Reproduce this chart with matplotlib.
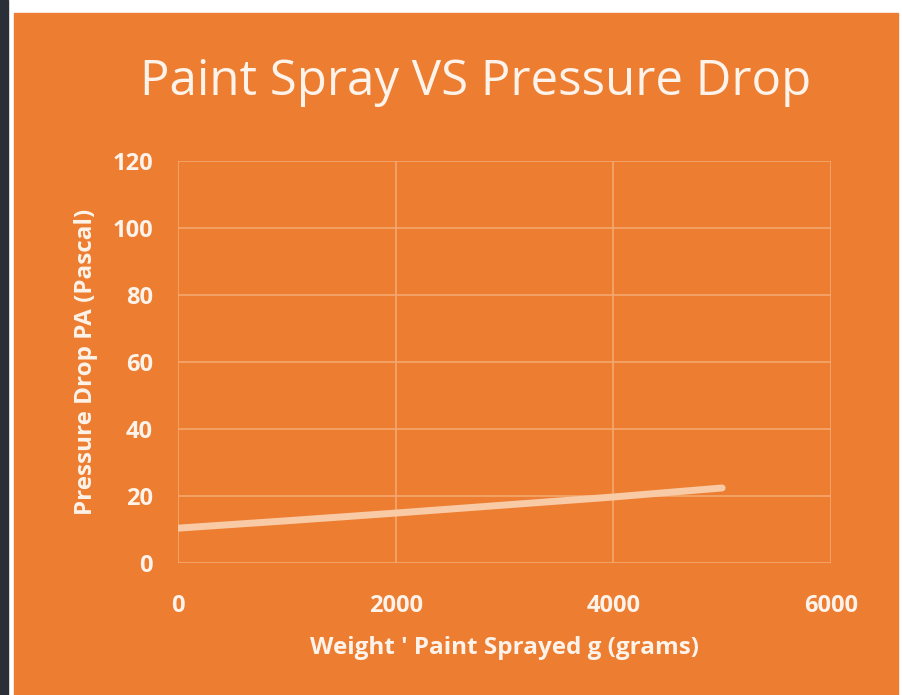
import matplotlib.pyplot as plt
from matplotlib.patches import Rectangle

# datos
peso = [0, 1000, 2000, 3000, 4000, 5000]
presion = [10.4, 12.6, 14.9, 17.3, 19.7, 22.4]
xticks = [0, 2000, 4000, 6000]
yticks = [0, 20, 40, 60, 80, 100, 120]

naranja = '#ed7d31'
blanco = '#fdf3ea'

fig = plt.figure(figsize=(9.03, 6.95), dpi=100)
fig.patch.set_facecolor('white')

# fondo naranja y barra oscura a la izquierda
fig.patches.append(Rectangle((14/903, 0), 884/903, 682/695, transform=fig.transFigure,
                             color=naranja, zorder=-10))
fig.patches.append(Rectangle((0, 0), 8/903, 1, transform=fig.transFigure,
                             color='#2b3038', zorder=-10))

ax = fig.add_axes([178/903, 1-563/695, 653/903, 402/695])
ax.set_facecolor(naranja)
ax.patch.set_alpha(0)

ax.plot(peso, presion, color='#f8cba6', lw=5, solid_capstyle='round', zorder=3)

ax.set_xlim(0, 6000)
ax.set_ylim(0, 120)
ax.set_xticks(xticks)
ax.set_yticks(yticks)
ax.grid(True, color='#f5a870', lw=1.2)
for s in ax.spines.values():
    s.set_visible(False)
ax.tick_params(length=0, colors=blanco, labelsize=17)
ax.tick_params(axis='x', pad=22)
ax.tick_params(axis='y', pad=18)
for lab in ax.get_xticklabels() + ax.get_yticklabels():
    lab.set_fontfamily('Open Sans')
    lab.set_fontweight('bold')

ax.set_xlabel("Weight ' Paint Sprayed g (grams)", color=blanco, fontsize=17.5,
              fontweight='bold', family='Open Sans', labelpad=13)
ax.set_ylabel('Pressure Drop PA (Pascal)', color=blanco, fontsize=17.5,
              fontweight='bold', family='Open Sans', labelpad=10)

fig.text(476/903, 1-82/695, 'Paint Spray VS Pressure Drop', color=blanco,
         fontsize=35.5, family='Open Sans', ha='center', va='center')

fig.savefig('out.png', dpi=100, facecolor=fig.get_facecolor())
